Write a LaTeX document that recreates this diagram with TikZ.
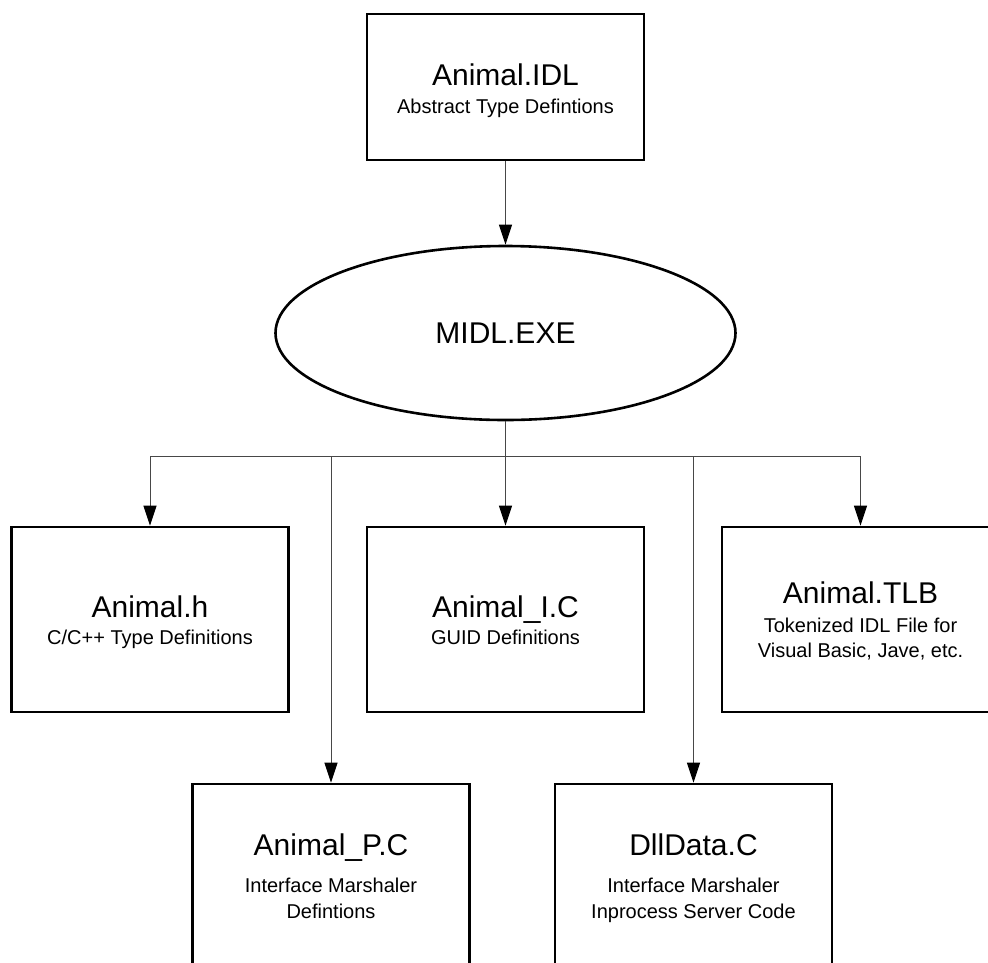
\documentclass[tikz,border=0pt]{standalone}
\usepackage{fontspec}
\setmainfont{Liberation Sans}
\usetikzlibrary{arrows.meta,shapes.geometric}

\tikzset{
  filebox/.style={draw=black, line width=2.6pt, minimum width=277pt,
                  minimum height=185pt, inner sep=0pt},
  srcbox/.style={filebox, minimum height=146pt},
  tool/.style={ellipse, draw=black, line width=2.6pt, minimum width=460pt,
               minimum height=174pt, inner sep=0pt},
  title/.style={anchor=base, inner sep=0pt, font=\fontsize{30}{36}\selectfont},
  sub/.style={anchor=base, inner sep=0pt, font=\fontsize{20}{24}\selectfont},
  feed/.style={draw=black!72, line width=1pt,
               -{Triangle[length=20pt,width=13pt,fill=black,color=black]}},
  bus/.style={draw=black!72, line width=1pt}
}

\begin{document}
\begin{tikzpicture}[x=1pt,y=-1pt]
  \useasboundingbox (0,0) rectangle (988,962);
  \clip (0,0) rectangle (988,962);

  % source file and compiler
  \node[srcbox] (idl) at (505.5,87) {};
  \node[tool] (midl) at (505.5,333) {};

  % generated files
  \node[filebox] (hfile) at (150,619.5) {};
  \node[filebox] (ifile) at (505.5,619.5) {};
  \node[filebox] (tlb)   at (860.5,619.5) {};
  \node[filebox] (pfile) at (331,876.5) {};
  \node[filebox] (dll)   at (693.5,876.5) {};

  % labels
  \node[title] (idlT)  at (505.5,85) {Animal.IDL};
  \node[sub]   (idlS)  at (505.5,113) {Abstract Type Defintions};
  \node[title] (midlT) at (505.5,343) {MIDL.EXE};
  \node[title] (hT)    at (150,617) {Animal.h};
  \node[sub]   (hS)    at (150,644) {C/C++ Type Definitions};
  \node[title] (iT)    at (505.5,617) {Animal\_I.C};
  \node[sub]   (iS)    at (505.5,644) {GUID Definitions};
  \node[title] (tT)    at (860.5,603) {Animal.TLB};
  \node[sub]   (tS1)   at (860.5,632) {Tokenized IDL File for};
  \node[sub]   (tS2)   at (860.5,657) {Visual Basic, Jave, etc.};
  \node[title] (pT)    at (331,855) {Animal\_P.C};
  \node[sub]   (pS1)   at (331,892) {Interface Marshaler};
  \node[sub]   (pS2)   at (331,918) {Defintions};
  \node[title] (dT)    at (693.5,855) {DllData.C};
  \node[sub]   (dS1)   at (693.5,892) {Interface Marshaler};
  \node[sub]   (dS2)   at (693.5,918) {Inprocess Server Code};

  % connectors
  \coordinate (hub) at (505.5,456);
  \draw[feed] (idl.south) -- (midl.north);
  \draw[bus] (midl.south) -- (hub);
  \draw[bus] (hub -| hfile) -- (hub -| tlb);
  \draw[feed] (hub -| hfile) -- (hfile.north);
  \draw[feed] (hub -| pfile) -- (pfile.north);
  \draw[feed] (hub) -- (ifile.north);
  \draw[feed] (hub -| dll) -- (dll.north);
  \draw[feed] (hub -| tlb) -- (tlb.north);
\end{tikzpicture}
\end{document}
